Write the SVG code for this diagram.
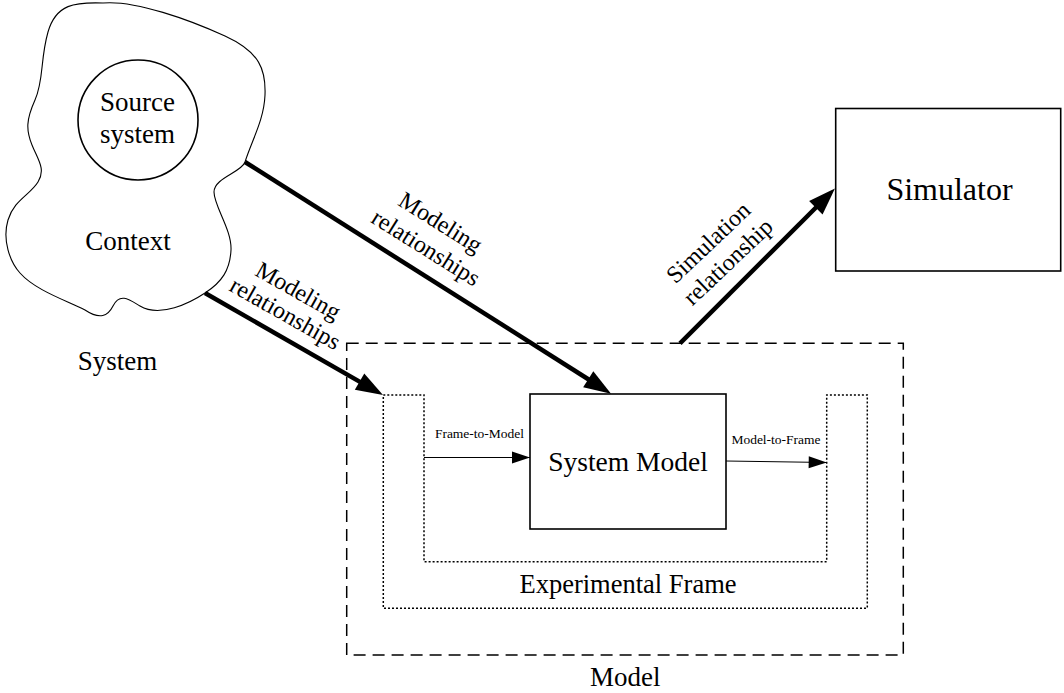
<svg xmlns="http://www.w3.org/2000/svg" width="1064" height="693" viewBox="0 0 1064 693">
<defs>
<style>
text{font-family:"Liberation Serif","Times New Roman",serif;fill:#000}
.big{font-size:27px}
.lbl{font-size:24px}
.small{font-size:13.5px}
.box{fill:#fff;stroke:#000;stroke-width:1.6}
.thick{stroke:#000;stroke-width:4.5;fill:none;marker-end:url(#bigHead)}
.thin{stroke:#000;stroke-width:1;fill:none;marker-end:url(#smallHead)}
</style>
<marker id="bigHead" markerUnits="userSpaceOnUse" markerWidth="28" markerHeight="20" refX="8" refY="9.5" orient="auto" overflow="visible">
<path d="M0,0 L27,9.5 L0,19 z" fill="#000"/>
</marker>
<marker id="smallHead" markerUnits="userSpaceOnUse" markerWidth="19" markerHeight="13" refX="18" refY="6" orient="auto" overflow="visible">
<path d="M0,0 L18,6 L0,12 z" fill="#000"/>
</marker>
</defs>
<rect width="1064" height="693" fill="#fff"/>

<g id="system">
<path d="M103 3 C135 0,190 20,225 36 S266 70,265 95 S252 140,245 162 C242 172,214 178,214 192 S232 230,231 250 S222 282,205 293 C190 303,160 318,140 306 C130 300,120 292,113 306 C108 316,100 320,85 310 C65 300,35 290,20 273 C10 262,2 240,8 220 S30 195,38 182 S38 160,32 145 S26 120,35 100 S40 60,48 32 S75 2,103 3 Z" fill="#fff" stroke="#000" stroke-width="1.1"/>
<text class="big" x="128" y="250" text-anchor="middle">Context</text>
<text class="big" x="117.5" y="370" text-anchor="middle">System</text>
</g>
<g id="source-system">
<circle cx="138" cy="120" r="60" fill="#fff" stroke="#000" stroke-width="1.6"/>
<text class="big" x="137.5" y="111" text-anchor="middle">Source</text>
<text class="big" x="137.5" y="143" text-anchor="middle">system</text>
</g>

<g id="model">
<rect x="346.7" y="343.3" width="556.6" height="311.7" fill="none" stroke="#000" stroke-width="1.5" stroke-dasharray="12 7"/>
<text class="big" x="625.3" y="686" text-anchor="middle">Model</text>
</g>
<g id="experimental-frame">
<path d="M383.3 395 L424 395 L424 561.7 L826.7 561.7 L826.7 395 L867.3 395 L867.3 608.3 L383.3 608.3 Z" fill="none" stroke="#000" stroke-width="1.5" stroke-dasharray="2 2"/>
<text class="big" x="628" y="593.3" text-anchor="middle" style="font-size:26.5px">Experimental Frame</text>
</g>
<g id="system-model">
<rect class="box" x="530" y="394" width="196" height="135"/>
<text class="big" x="628" y="470.7" text-anchor="middle" style="font-size:27.5px">System Model</text>
</g>
<g id="simulator">
<rect class="box" x="835.7" y="108.5" width="225" height="162.5"/>
<text x="949.5" y="200" text-anchor="middle" style="font-size:32px">Simulator</text>
</g>

<g id="connectors">
<line class="thick" x1="245" y1="162" x2="595" y2="383.5"/>
<line class="thick" x1="205" y1="293" x2="366.5" y2="385.6"/>
<line class="thick" x1="680" y1="343.3" x2="821.5" y2="202"/>
<line class="thin" x1="424" y1="457.5" x2="530" y2="457.5"/>
<line class="thin" x1="726" y1="461" x2="826.7" y2="462.5"/>
<g transform="translate(439,225) rotate(32)">
<text class="lbl" x="0" y="5" text-anchor="middle">Modeling</text>
<text class="lbl" x="1" y="34" text-anchor="middle">relationships</text>
</g>
<g transform="translate(296.7,293.3) rotate(29.5)">
<text class="lbl" x="0" y="5" text-anchor="middle">Modeling</text>
<text class="lbl" x="0" y="31" text-anchor="middle">relationships</text>
</g>
<g transform="translate(708.3,242.5) rotate(-43.5)">
<text class="lbl" x="0" y="8" text-anchor="middle">Simulation</text>
<text class="lbl" x="1" y="35.5" text-anchor="middle">relationship</text>
</g>
<text class="small" x="479.5" y="438.3" text-anchor="middle">Frame-to-Model</text>
<text class="small" x="776" y="444" text-anchor="middle">Model-to-Frame</text>
</g>
</svg>
